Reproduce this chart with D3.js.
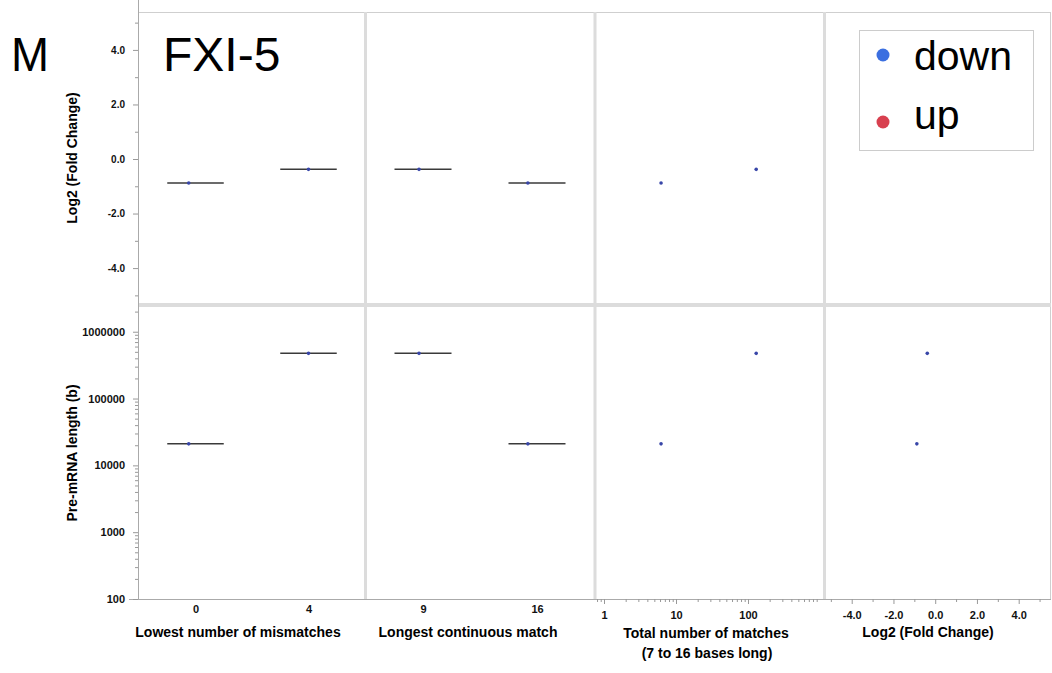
<!DOCTYPE html>
<html>
<head>
<meta charset="utf-8">
<title>FXI-5</title>
<script src="https://d3js.org/d3.v7.min.js"></script>
<style>
    body { margin: 0; background: #fff; font-family: "Liberation Sans", Arial, sans-serif; }
    .tick text { font-family: "Liberation Sans", Arial, sans-serif; font-weight: bold; fill: #111; }
    .tick line { stroke: #999; }
    .axisTitle { font-weight: bold; font-size: 14px; fill: #000; text-anchor: middle; }
    .big { font-size: 48px; fill: #000; }
    .legendText { font-size: 41px; fill: #000; }
</style>
</head>
<body>
<script>
// two genes, both "down"
var geneDirection = ["down", "down"];
var lowestMismatches = ["0", "4"];
var longestMatch = ["16", "9"];
var totalMatches = [6.2, 130];
var log2FC = [-0.88, -0.38];
var preMrnaLength = [21000, 475000];

// small horizontal jitter of the points (fraction of category step)
var jitterMismatch = [-0.06, 0];
var jitterLongest = [-0.08, -0.035];

var mismatchCats = ["0", "4"];
var longestCats = ["9", "16"];
var fcTicks = [-4, -2, 0, 2, 4];
var fcMinor = [-5, -3, -1, 1, 3, 5];
var lenTicks = [100, 1000, 10000, 100000, 1000000];
var matchTicks = [1, 10, 100];
var legendLabels = ["down", "up"];
var legendColors = ["#3b6fe0", "#d8404f"];

var W = 1052, H = 673;
var svg = d3.select('body').append('svg')
    .attr('width', W)
    .attr('height', H);

// layout
var cols = [[139, 365], [366, 594], [596, 824], [825, 1050]];
var rowTop = [12, 303], rowBot = [307, 599];

// scales
var yFC = d3.scaleLinear().domain([-5.28, 5.39]).range([rowTop[1], rowTop[0]]);
var yLen = d3.scaleLog().domain([100, Math.pow(10, 6.37)]).range([rowBot[1], rowBot[0]]);
var xMis = d3.scalePoint().domain(mismatchCats).range(cols[0]).padding(0.5);
var xLong = d3.scalePoint().domain(longestCats).range(cols[1]).padding(0.5);
var xTot = d3.scaleLog().domain([0.774, 1137]).range(cols[2]);
var xFC = d3.scaleLinear().domain([-5.28, 5.5]).range(cols[3]);

// hyphen instead of unicode minus, like the original
var fmt1 = function(d) { return d3.format('.1f')(d).replace('\u2212', '-'); };

// ---- frame ----
var frame = svg.append('g');
frame.append('line').attr('x1', 138).attr('x2', 1050).attr('y1', 12.5).attr('y2', 12.5)
    .attr('stroke', '#cfcfcf');
frame.append('line').attr('x1', 1050.5).attr('x2', 1050.5).attr('y1', 12).attr('y2', 599)
    .attr('stroke', '#cfcfcf');
[365.5, 595, 824.5].forEach(function(x) {
    frame.append('line').attr('x1', x).attr('x2', x).attr('y1', 12).attr('y2', 599)
        .attr('stroke', '#dcdcdc').attr('stroke-width', 3);
});
frame.append('line').attr('x1', 139).attr('x2', 1051).attr('y1', 305).attr('y2', 305)
    .attr('stroke', '#dcdcdc').attr('stroke-width', 4);

// ---- axes ----
function styleAxis(g, size) {
    g.select('.domain').remove();
    g.selectAll('.tick text').style('font-size', size + 'px');
    return g;
}

// left top: log2 fold change
svg.append('g').attr('transform', 'translate(138,0)')
    .call(d3.axisLeft(yFC).tickValues(fcTicks).tickSize(5).tickPadding(8).tickFormat(fmt1))
    .call(styleAxis, 10);
svg.append('g').attr('transform', 'translate(138,0)')
    .call(d3.axisLeft(yFC).tickValues(fcMinor).tickSize(3).tickFormat(''))
    .call(styleAxis, 10);

// left bottom: pre-mRNA length (log)
var lenMinor = [];
[100, 1000, 10000, 100000, 1000000].forEach(function(d) {
    for (var k = 2; k <= 9; k++) { if (d * k < yLen.domain()[1]) lenMinor.push(d * k); }
});
svg.append('g').attr('transform', 'translate(138,0)')
    .call(d3.axisLeft(yLen).tickValues(lenTicks).tickSize(5).tickPadding(8).tickFormat(d3.format('d')))
    .call(styleAxis, 11);
svg.append('g').attr('transform', 'translate(138,0)')
    .call(d3.axisLeft(yLen).tickValues(lenMinor).tickSize(3).tickFormat(''))
    .call(styleAxis, 11);

// y axis line and baseline
frame.append('line').attr('x1', 138.5).attr('x2', 138.5).attr('y1', 0).attr('y2', 599.5)
    .attr('stroke', '#aaa');
frame.append('line').attr('x1', 129).attr('x2', 1051).attr('y1', 599.5).attr('y2', 599.5)
    .attr('stroke', '#aaa');

// bottom axes
svg.append('g').attr('transform', 'translate(0,599)')
    .call(d3.axisBottom(xMis).tickSize(0).tickPadding(6))
    .call(styleAxis, 11);
svg.append('g').attr('transform', 'translate(0,599)')
    .call(d3.axisBottom(xLong).tickSize(0).tickPadding(6))
    .call(styleAxis, 11);

var totMinor = [0.8, 0.9];
[1, 10, 100].forEach(function(d) {
    for (var k = 2; k <= 9; k++) totMinor.push(d * k);
});
svg.append('g').attr('transform', 'translate(0,599)')
    .call(d3.axisBottom(xTot).tickValues(matchTicks).tickSize(5).tickPadding(7).tickFormat(d3.format('d')))
    .call(styleAxis, 11);
svg.append('g').attr('transform', 'translate(0,599)')
    .call(d3.axisBottom(xTot).tickValues(totMinor).tickSize(3).tickFormat(''))
    .call(styleAxis, 11);

svg.append('g').attr('transform', 'translate(0,599)')
    .call(d3.axisBottom(xFC).tickValues(fcTicks).tickSize(5).tickPadding(7).tickFormat(fmt1))
    .call(styleAxis, 11);
svg.append('g').attr('transform', 'translate(0,599)')
    .call(d3.axisBottom(xFC).tickValues(fcMinor).tickSize(3).tickFormat(''))
    .call(styleAxis, 11);

// axis titles
svg.append('text').attr('class', 'axisTitle')
    .attr('transform', 'translate(77,158) rotate(-90)')
    .text('Log2 (Fold Change)');
svg.append('text').attr('class', 'axisTitle')
    .attr('transform', 'translate(77,453) rotate(-90)')
    .text('Pre-mRNA length (b)');
svg.append('text').attr('class', 'axisTitle').attr('x', 238).attr('y', 637).text('Lowest number of mismatches');
svg.append('text').attr('class', 'axisTitle').attr('x', 468).attr('y', 637).text('Longest continuous match');
svg.append('text').attr('class', 'axisTitle').attr('x', 706).attr('y', 638).text('Total number of matches');
svg.append('text').attr('class', 'axisTitle').attr('x', 707).attr('y', 658).text('(7 to 16 bases long)');
svg.append('text').attr('class', 'axisTitle').attr('x', 928).attr('y', 637).text('Log2 (Fold Change)');

// ---- marks ----
var genes = d3.range(geneDirection.length);
var pointColor = '#3846a8';
var meanColor = '#3a3a3a';

function catPanel(xs, cats, jit, ys, yv) {
    var step = xs.step();
    var g = svg.append('g');
    // mean lines (one gene per category)
    g.selectAll('line').data(genes).enter().append('line')
        .attr('x1', function(i) { return xs(cats[i]) - step * 0.25; })
        .attr('x2', function(i) { return xs(cats[i]) + step * 0.25; })
        .attr('y1', function(i) { return ys(yv[i]); })
        .attr('y2', function(i) { return ys(yv[i]); })
        .attr('stroke', meanColor).attr('stroke-width', 1.5);
    g.selectAll('circle').data(genes).enter().append('circle')
        .attr('cx', function(i) { return xs(cats[i]) + jit[i] * step; })
        .attr('cy', function(i) { return ys(yv[i]); })
        .attr('r', 1.8)
        .attr('fill', pointColor);
}
function scatterPanel(xs, xv, ys, yv) {
    svg.append('g').selectAll('circle').data(genes).enter().append('circle')
        .attr('cx', function(i) { return xs(xv[i]); })
        .attr('cy', function(i) { return ys(yv[i]); })
        .attr('r', 1.8)
        .attr('fill', pointColor);
}

catPanel(xMis, lowestMismatches, jitterMismatch, yFC, log2FC);
catPanel(xLong, longestMatch, jitterLongest, yFC, log2FC);
scatterPanel(xTot, totalMatches, yFC, log2FC);

catPanel(xMis, lowestMismatches, jitterMismatch, yLen, preMrnaLength);
catPanel(xLong, longestMatch, jitterLongest, yLen, preMrnaLength);
scatterPanel(xTot, totalMatches, yLen, preMrnaLength);
scatterPanel(xFC, log2FC, yLen, preMrnaLength);

// ---- legend ----
var legend = svg.append('g');
legend.append('rect').attr('x', 859.5).attr('y', 30.5).attr('width', 174).attr('height', 120)
    .attr('fill', '#fff').attr('stroke', '#cccccc');
legendLabels.forEach(function(lab, i) {
    legend.append('circle').attr('cx', 883).attr('cy', 55 + i * 67).attr('r', 6.5)
        .attr('fill', legendColors[i]);
    legend.append('text').attr('class', 'legendText').attr('x', 914).attr('y', 70 + i * 59).text(lab);
});

// ---- titles ----
svg.append('text').attr('class', 'big').attr('x', 11).attr('y', 71)
    .attr('textLength', 38).attr('lengthAdjust', 'spacingAndGlyphs').text('M');
svg.append('text').attr('class', 'big').attr('x', 163).attr('y', 71).text('FXI-5');
</script>
</body>
</html>
